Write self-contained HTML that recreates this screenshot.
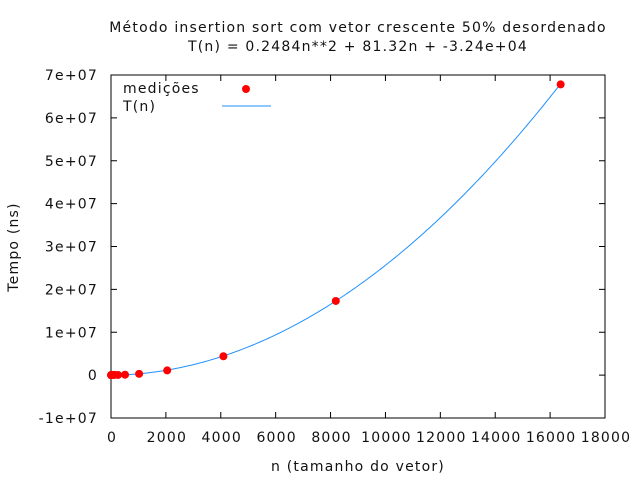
<!DOCTYPE html>
<html><head><meta charset="utf-8">
<style>
body{margin:0;background:#fff;}
svg{display:block;font-family:"DejaVu Sans","Liberation Sans",sans-serif;font-size:14px;letter-spacing:1.2px;fill:#111;}
</style></head>
<body>
<svg id="chart" width="640" height="480">
<rect width="640" height="480" fill="#fff"/>
<text x="358" y="32" text-anchor="middle">Método insertion sort com vetor crescente 50% desordenado</text>
<text x="358" y="51" text-anchor="middle">T(n) = 0.2484n**2 + 81.32n + -3.24e+04</text>
<text x="358" y="471" text-anchor="middle">n (tamanho do vetor)</text>
<text transform="translate(18,247) rotate(-90)" text-anchor="middle">Tempo (ns)</text>
<g id="axes"></g>
<g id="marks"></g>
<g id="legend">
<text x="123" y="93">medições</text>
<circle cx="246" cy="89" r="4" fill="#ff0000"/>
<text x="123" y="111">T(n)</text>
<line x1="222" y1="106" x2="271" y2="106" stroke="#1e90ff" stroke-width="1"/>
</g>
</svg>
<script>
const xTicks=[0,2000,4000,6000,8000,10000,12000,14000,16000,18000];
const yTicks=[-1e7,0,1e7,2e7,3e7,4e7,5e7,6e7,7e7];
const yTickLabels=["-1e+07","0","1e+07","2e+07","3e+07","4e+07","5e+07","6e+07","7e+07"];
const sizesN=[2,4,8,16,32,64,128,256,512,1024,2048,4096,8192,16384];
const timesNs=[1000,2000,5000,20000,60000,40000,60000,40000,100000,300000,1100000,4400000,17300000,67800000];
const fitCoef=[0.2484,81.32,-32400];
const L=111,R=605,T=75,B=418;
const xs=v=>L+(v-0)/(18000)*(R-L);
const ys=v=>B-(v+1e7)/(8e7)*(B-T);
const NS="http://www.w3.org/2000/svg";
function mk(tag,attrs,parent){const e=document.createElementNS(NS,tag);for(const k in attrs)e.setAttribute(k,attrs[k]);parent.appendChild(e);return e;}
const ax=document.getElementById('axes'),mg=document.getElementById('marks');
const frame=mk('rect',{x:L,y:T,width:R-L,height:B-T,fill:'none',stroke:'#000','stroke-width':1},ax);


xTicks.forEach(v=>{const x=xs(v);
 const t=mk('path',{d:`M${x},${B}v-6M${x},${T}v6`,stroke:'#000'},ax);
 
 
 const l=mk('text',{x:x+1,y:B+24,'text-anchor':'middle'},ax);l.textContent=v;
 
 
});
yTicks.forEach((v,i)=>{const y=ys(v);
 const t=mk('path',{d:`M${L},${y}h6M${R},${y}h-6`,stroke:'#000'},ax);
 
 
 const l=mk('text',{x:L-13,y:y+5,'text-anchor':'end'},ax);l.textContent=yTickLabels[i];
 
 
});
let d='';
for(let i=0;i<=200;i++){const n=sizesN[sizesN.length-1]*i/200;const t=fitCoef[0]*n*n+fitCoef[1]*n+fitCoef[2];d+=(i?'L':'M')+xs(n).toFixed(2)+','+ys(t).toFixed(2);}
const c=mk('path',{d:d,fill:'none',stroke:'#1e90ff','stroke-width':1},mg);


sizesN.forEach((n,i)=>{const p=mk('circle',{cx:xs(n),cy:ys(timesNs[i]),r:4,fill:'#ff0000'},mg);
 
 
});
</script>
</body></html>
